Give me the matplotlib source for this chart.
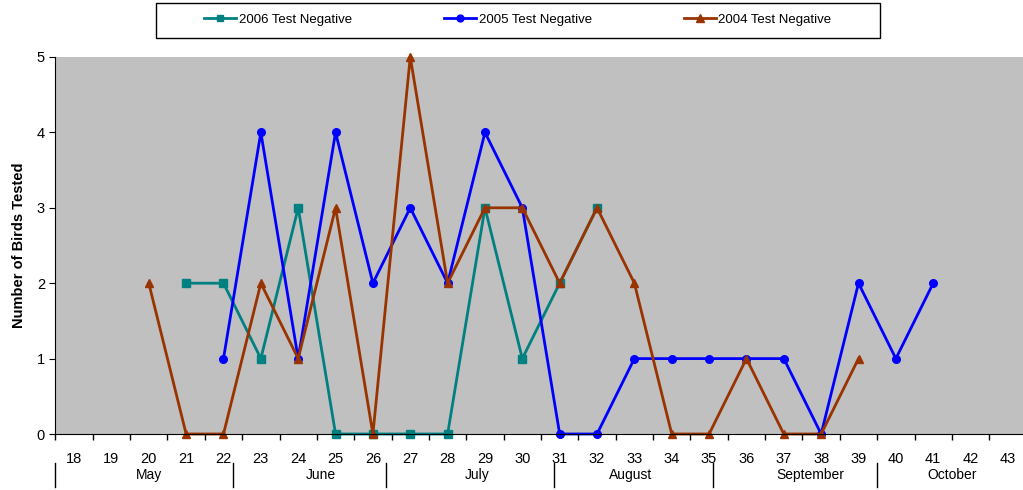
import matplotlib
matplotlib.use("Agg")
import matplotlib.pyplot as plt
from matplotlib.patches import Rectangle
import numpy as np

plt.rcParams['font.family'] = ['Liberation Sans', 'DejaVu Sans']

weeks = list(range(18, 44))

weeks_2006 = [21, 22, 23, 24, 25, 26, 27, 28, 29, 30, 31, 32]
vals_2006 = [2, 2, 1, 3, 0, 0, 0, 0, 3, 1, 2, 3]

weeks_2005 = [22, 23, 24, 25, 26, 27, 28, 29, 30, 31, 32, 33, 34, 35, 36, 37, 38, 39, 40, 41]
vals_2005 = [1, 4, 1, 4, 2, 3, 2, 4, 3, 0, 0, 1, 1, 1, 1, 1, 0, 2, 1, 2]

weeks_2004 = [20, 21, 22, 23, 24, 25, 26, 27, 28, 29, 30, 31, 32, 33, 34, 35, 36, 37, 38, 39]
vals_2004 = [2, 0, 0, 2, 1, 3, 0, 5, 2, 3, 3, 2, 3, 2, 0, 0, 1, 0, 0, 1]

months = ["May", "June", "July", "August", "September", "October"]
month_label_x = [20.0, 24.6, 28.8, 32.9, 37.7, 41.5]
month_bounds = [17.5, 22.25, 26.35, 30.85, 35.1, 39.5]

fig = plt.figure(figsize=(10.23, 4.9), dpi=100)
W, H = 1023, 490
ax = fig.add_axes([55.4 / W, (H - 434) / H, (1026.6 - 55.4) / W, (434 - 57) / H])
ax.set_facecolor('#C0C0C0')

l1, = ax.plot(weeks_2006, vals_2006, color='#008080', marker='s', markersize=5.5, lw=2, label='2006 Test Negative', clip_on=False)
l2, = ax.plot(weeks_2005, vals_2005, color='#0000FF', marker='o', markersize=5.5, lw=2, label='2005 Test Negative', clip_on=False)
l3, = ax.plot(weeks_2004, vals_2004, color='#993300', marker='^', markersize=6, lw=2, label='2004 Test Negative', clip_on=False)

ax.set_xlim(17.5, 43.5)
ax.set_ylim(0, 5)
ax.set_yticks(range(0, 6))
ax.set_xticks(np.arange(17.5, 44.0, 1.0))
ax.set_xticklabels([])
ax.set_xticks(weeks, minor=True)
ax.set_xticklabels([str(w) for w in weeks], minor=True)
ax.tick_params(axis='x', which='major', length=4, direction='out', width=1)
ax.tick_params(axis='x', which='minor', length=0, pad=13, labelsize=10.5)
ax.tick_params(axis='y', length=4, direction='out', labelsize=10.5)
for s in ['top', 'right']:
    ax.spines[s].set_visible(False)
ax.spines['left'].set_color('black')
ax.spines['bottom'].set_color('black')

ax.set_ylabel('Number of Birds Tested', fontsize=10.5, fontweight='bold', labelpad=8)

trans = ax.get_xaxis_transform()
for name, x in zip(months, month_label_x):
    ax.text(x, -0.108, name, transform=trans, ha='center', va='center', fontsize=10)
for b in month_bounds:
    ax.plot([b, b], [-0.077, -0.14], transform=trans, color='black', lw=1, clip_on=False)

fig.patches.append(Rectangle((156 / W, (H - 38) / H), (880 - 156) / W, 35 / H,
                             transform=fig.transFigure, facecolor='white',
                             edgecolor='black', lw=1))
fig.legend(handles=[l1, l2, l3], loc='center', bbox_to_anchor=(518 / W, (H - 20) / H),
           ncol=3, frameon=False, fontsize=9.5, handlelength=2.4, handletextpad=0.2,
           columnspacing=7.0, markerscale=0.9)

fig.savefig('out.png', dpi=100)
